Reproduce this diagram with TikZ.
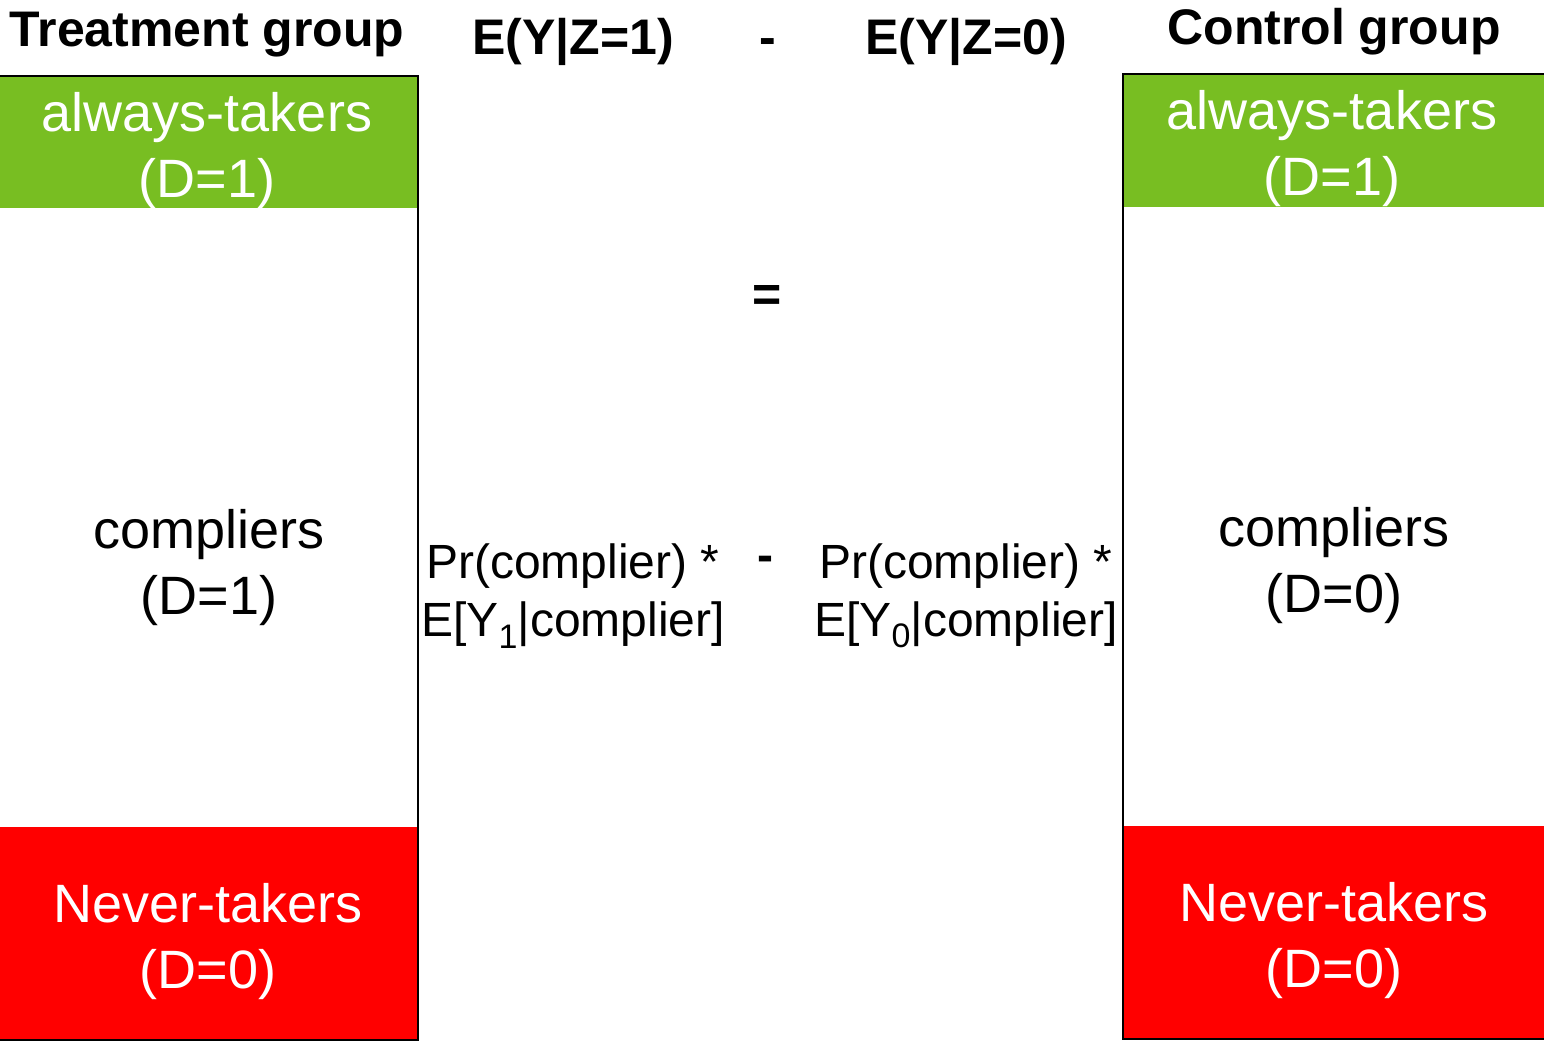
\documentclass[tikz,border=0pt]{standalone}
\usepackage{fontspec}
\setmainfont{Liberation Sans}
\usepackage{tikz}
\definecolor{takergreen}{RGB}{120,190,34}
\definecolor{neverred}{RGB}{255,0,0}
\newcommand{\lowsub}[1]{\raisebox{-0.45ex}{\fontsize{17}{17}\selectfont #1}}

\begin{document}
\begin{tikzpicture}[x=0.5pt,y=-0.5pt,
            head node/.style={anchor=base,font=\fontsize{25}{30}\selectfont\bfseries},
            band node/.style={align=center,font=\fontsize{27}{33}\selectfont},
            eq node/.style={align=center,font=\fontsize{24}{29}\selectfont},
            ]
            \useasboundingbox (0,0) rectangle (1544,1043);

            % treatment column
            \fill[takergreen] (0,76) rectangle (418,208);
            \fill[neverred] (0,827) rectangle (418,1040);
            \draw[line width=1pt] (-5,76) rectangle (418,1040);
            % control column
            \fill[takergreen] (1123,74) rectangle (1544,207);
            \fill[neverred] (1123,826) rectangle (1544,1039);
            \draw[line width=1pt] (1123,74) rectangle (1550,1039);

            \node[head node] (treat) at (207,47) {Treatment group};
            \node[head node] (ez1) at (573,55) {E(Y|Z=1)};
            \node[head node] (minus) at (768,55) {-};
            \node[head node] (ez0) at (966,55) {E(Y|Z=0)};
            \node[head node] (control) at (1334,45) {Control group};
            \node[head node] (equals) at (767,312) {=};

            \node[band node, text=white] (at1) at (207,151) {always-takers\\(D=1)};
            \node[band node] (c1) at (209,568) {compliers\\(D=1)};
            \node[band node, text=white] (nt1) at (208,942) {Never-takers\\(D=0)};

            \node[band node, text=white] (at0) at (1332,149) {always-takers\\(D=1)};
            \node[band node] (c0) at (1334,566) {compliers\\(D=0)};
            \node[band node, text=white] (nt0) at (1334,941) {Never-takers\\(D=0)};

            \node[eq node] (late1) at (573,596) {Pr(complier) *\\E[Y\lowsub{1}|complier]};
            \node[eq node, font=\fontsize{24}{29}\selectfont\bfseries] (diff) at (765,564) {-};
            \node[eq node] (late0) at (966,596) {Pr(complier) *\\E[Y\lowsub{0}|complier]};
        \end{tikzpicture}
\end{document}
